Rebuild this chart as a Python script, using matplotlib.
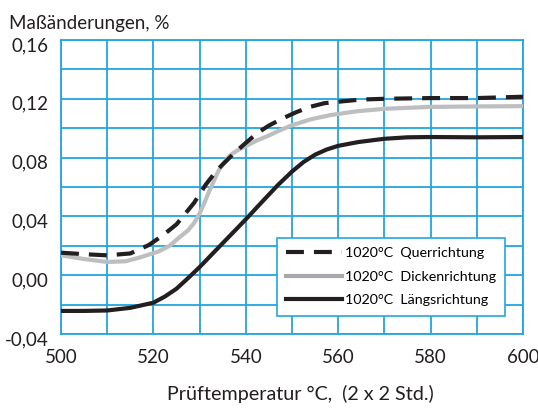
import matplotlib
matplotlib.use('Agg')
import matplotlib.pyplot as plt
import matplotlib.transforms as mtransforms
from matplotlib.lines import Line2D

plt.rcParams['font.family'] = ['Lato', 'DejaVu Sans']

# Querrichtung (dashed)
temp_q = [500, 505, 510, 515, 519, 522, 525, 528.8, 531.3, 533.8, 536.5, 538, 540, 542.4, 545, 548, 551, 554,
          557, 561, 565, 570, 580, 590, 600]
quer = [0.0153, 0.0143, 0.0135, 0.0148, 0.0205, 0.027, 0.0346, 0.0492, 0.0615, 0.0716, 0.080, 0.0845, 0.090,
        0.0965, 0.1018, 0.1067, 0.111, 0.1146, 0.117, 0.1183, 0.1195, 0.120, 0.1205, 0.1205, 0.1214]

# Dickenrichtung (grey)
temp_d = [500, 505, 510, 514, 517, 521, 523.5, 525.6, 527.5, 528.8, 530, 531, 532, 533, 534, 535, 536, 537,
          538.5, 540, 542.3, 544.6, 547, 550, 554, 558.3, 564, 570, 580, 590, 600]
dicke = [0.0135, 0.011, 0.009, 0.0095, 0.012, 0.016, 0.020, 0.0257, 0.0305, 0.0355, 0.042, 0.049, 0.0565,
         0.0635, 0.0705, 0.0755, 0.0795, 0.0825, 0.0855, 0.0878, 0.0915, 0.0945, 0.098, 0.102, 0.106, 0.1089,
         0.1115, 0.1132, 0.1145, 0.1148, 0.115]

# Laengsrichtung (black)
temp_l = [500, 505, 510, 515, 520, 522.5, 525, 527.5, 530, 532, 534.3, 538, 540, 543.7, 547, 550, 552.5,
          555, 557.5, 560, 564.4, 570, 575, 580, 590, 600]
laengs = [-0.0243, -0.0243, -0.024, -0.0222, -0.0187, -0.0145, -0.0092, -0.002, 0.0055, 0.012, 0.0195, 0.0315,
          0.038, 0.0505, 0.0615, 0.0705, 0.077, 0.082, 0.0855, 0.088, 0.0906, 0.0928, 0.0938, 0.094, 0.0938, 0.094]

labels = ['1020°C  Querrichtung', '1020°C  Dickenrichtung', '1020°C  Längsrichtung']
xticks = [500, 520, 540, 560, 580, 600]
yticks = [-0.04, 0.00, 0.04, 0.08, 0.12, 0.16]
ytick_labels = ['-0,04', '0,00', '0,04', '0,08', '0,12', '0,16']

blue = '#22a6df'
black = '#231f20'
grey = '#bcbec0'

fig = plt.figure(figsize=(5.38, 4.08), dpi=100)
ax = fig.add_axes([61/538, 1 - 334/408, 462/538, 294/408])

ax.plot(temp_l, laengs, color=black, lw=3, solid_capstyle='butt', solid_joinstyle='round', zorder=3)
ax.plot(temp_d, dicke, color=grey, lw=3, solid_capstyle='butt', solid_joinstyle='round', zorder=3)
ax.plot(temp_q, quer, color=black, lw=3, dashes=(4.3, 2.4), zorder=4)

ax.set_xlim(500, 600)
ax.set_ylim(-0.04, 0.16)
ax.set_xticks(range(500, 601, 10), minor=True)
ax.set_yticks([y / 100 for y in range(-4, 17, 2)], minor=True)
ax.set_xticks(xticks)
ax.set_xticklabels([str(x) for x in xticks])
ax.set_yticks(yticks)
ax.set_yticklabels(ytick_labels)
ax.grid(True, which='both', color=blue, lw=1.3)
ax.set_axisbelow(True)
ax.tick_params(which='both', length=0, labelsize=13.5, colors=black)
ax.tick_params(axis='x', pad=11)
ax.tick_params(axis='y', pad=9)
for s in ax.spines.values():
    s.set_color(blue)
    s.set_linewidth(1.3)

off = mtransforms.ScaledTranslation(0, -4/100, fig.dpi_scale_trans)
for t in ax.get_yticklabels():
    t.set_transform(t.get_transform() + off)

# legend
handles = [Line2D([], [], color=black, lw=3, dashes=(4.3, 2.4)),
           Line2D([], [], color='#a7a9ac', lw=3),
           Line2D([], [], color=black, lw=3)]
leg = ax.legend(handles, labels, loc='upper left', bbox_to_anchor=((277-61)/462, (334-238)/294),
                fontsize=10.3, frameon=True, fancybox=False, handlelength=3.9, handletextpad=0.2,
                labelspacing=0.8, borderpad=0.65, borderaxespad=0)
leg.get_frame().set_edgecolor(blue)
leg.get_frame().set_linewidth(1.2)
leg.get_frame().set_alpha(1)

fig.text(9/538, 1 - 29/408, 'Maßänderungen, %', fontsize=13.5, color=black, va='baseline', ha='left')
fig.text(300/538, 1 - 400/408, 'Prüftemperatur °C,  (2 x 2 Std.)', fontsize=14.2, color=black,
         va='baseline', ha='center')

fig.savefig('out.png', dpi=100)
